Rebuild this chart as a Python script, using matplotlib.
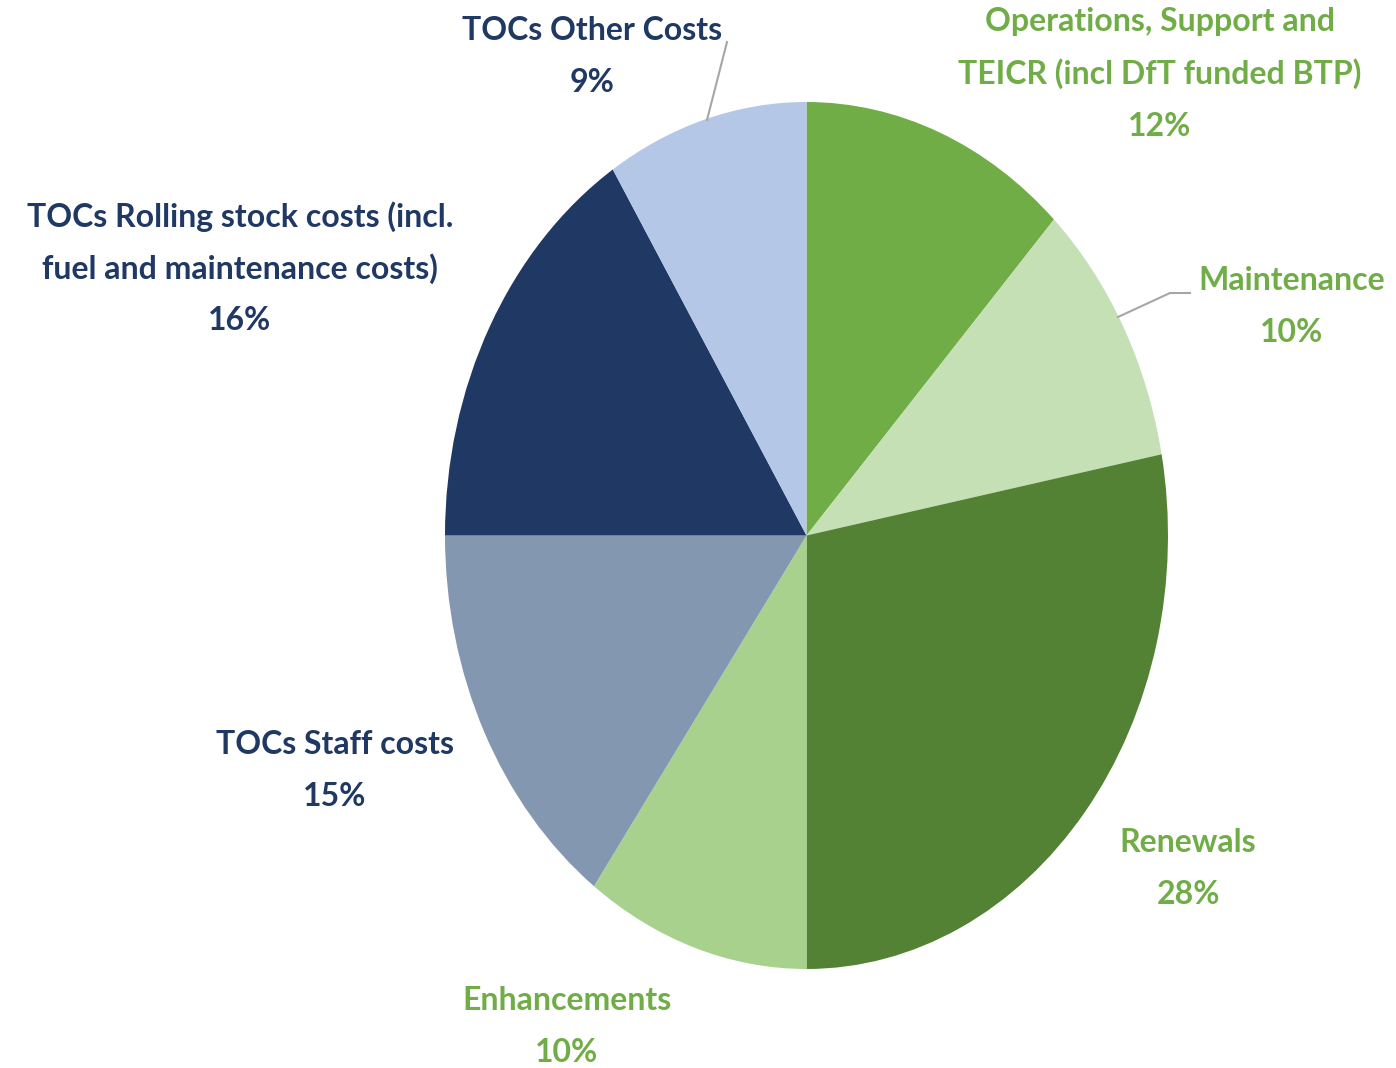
import matplotlib.pyplot as plt

# slices go clockwise from 12 o'clock
categories = ['Operations, Support and\nTEICR (incl DfT funded BTP)', 'Maintenance', 'Renewals',
              'Enhancements', 'TOCs Staff costs',
              'TOCs Rolling stock costs (incl.\nfuel and maintenance costs)', 'TOCs Other Costs']
shares = [12, 10, 28, 10, 15, 16, 9]
colors = ['#70AD47', '#C5E0B4', '#548235', '#A9D18E', '#8497B0', '#203864', '#B4C7E7']
label_colors = ['#70AD47', '#70AD47', '#70AD47', '#70AD47', '#1F3864', '#1F3864', '#1F3864']

W, H = 1396, 1068
fig = plt.figure(figsize=(W / 100, H / 100), dpi=100)

# pie is an ellipse in the reference: put it in an axes with non-equal scaling
cx, cy, rx, ry = 806.5, 535.5, 361.5, 433.5
ax = fig.add_axes([(cx - rx) / W, 1 - (cy + ry) / H, 2 * rx / W, 2 * ry / H])
ax.pie(shares, colors=colors, startangle=90, counterclock=False, radius=1,
       wedgeprops=dict(linewidth=0))
ax.set_xlim(-1, 1)
ax.set_ylim(-1, 1)
ax.set_aspect('auto')
ax.axis('off')

# label positions in pixel coords (center x, first line y)
label_pos = [(1160, 22), (1292, 281), (1188, 842), (567, 1000), (335, 744), (240, 217), (592, 30)]
line_h = 52
for name, share, col, (x, y) in zip(categories, shares, label_colors, label_pos):
    lines = name.split('\n') + [f'{share}%']
    for i, ln in enumerate(lines):
        fig.text(x / W, 1 - (y + i * line_h) / H, ln, ha='center', va='center',
                 fontsize=23, fontweight='bold', color=col, family=['Lato', 'DejaVu Sans'])

# leader lines
ov = fig.add_axes([0, 0, 1, 1])
ov.set_xlim(0, W)
ov.set_ylim(H, 0)
ov.axis('off')
ov.plot([727, 707], [42, 120], color='#A6A6A6', lw=1.5)
ov.plot([1118, 1170, 1190], [317, 293, 293], color='#A6A6A6', lw=1.5)

fig.savefig('out.png', dpi=100)
